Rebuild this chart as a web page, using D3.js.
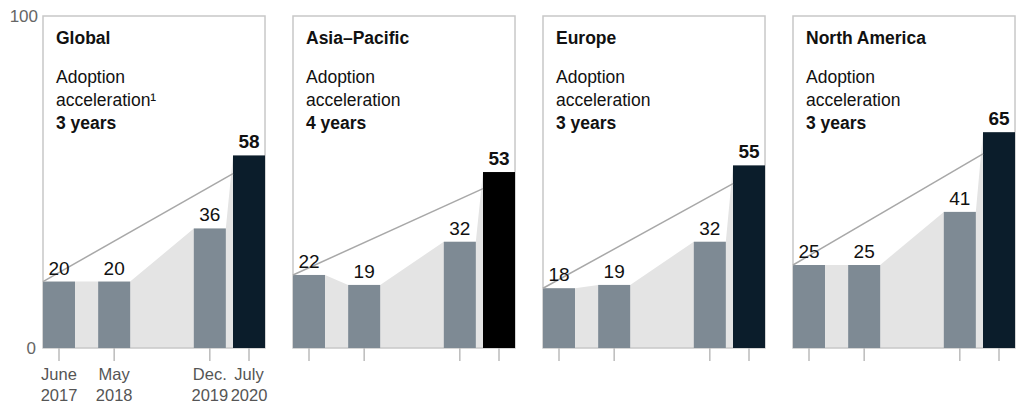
<!DOCTYPE html>
<html>
<head>
<meta charset="utf-8">
<script src="https://cdn.jsdelivr.net/npm/d3@7"></script>
<style>
  body { margin: 0; background: #fff; }
  svg { display: block; font-family: "Liberation Sans", Arial, sans-serif; }
</style>
</head>
<body>
<svg id="chart" width="1019" height="407"></svg>
<script>
// data
var regions = ["Global", "Asia\u2013Pacific", "Europe", "North America"];
var accelYears = [3, 4, 3, 3];
var surveyDates = ["2017-06", "2018-05", "2019-12", "2020-07"];
var dateLabels = [["June", "2017"], ["May", "2018"], ["Dec.", "2019"], ["July", "2020"]];
var globalValues = [20, 20, 36, 58];
var asiaValues = [22, 19, 32, 53];
var europeValues = [18, 19, 32, 55];
var northAmericaValues = [25, 25, 41, 65];
var trendEnd = [52.5, 48, 49.5, 58.5];   // where the grey trend line meets the last bar
var yTicks = [0, 100];

var seriesList = [globalValues, asiaValues, europeValues, northAmericaValues];
var lastBarColors = ["#0b1d2b", "#000000", "#0b1d2b", "#0b1d2b"];

var svg = d3.select("#chart");
var parse = d3.timeParse("%Y-%m");
var dates = surveyDates.map(parse);

var panelLeft = 43, panelStep = 250, barW = 32;
var lastGap = 4;   // the highlighted (latest) bar sits a little apart
var y = d3.scaleLinear().domain([0, 100]).range([348, 16]);
var x = d3.scaleTime().domain(d3.extent(dates)).range([0, 186]);

function barX(d, i) { return x(d) + (i === dates.length - 1 ? lastGap : 0); }

// y axis labels (only drawn once, left of the first panel)
svg.selectAll(".ylab").data(yTicks).enter().append("text")
    .attr("class", "ylab")
    .attr("x", function (d) { return d === 0 ? 36 : 38; })
    .attr("y", function (d) { return y(d) + 6; })
    .attr("text-anchor", "end")
    .attr("font-size", 17)
    .attr("fill", "#666")
    .text(function (d) { return d; });

seriesList.forEach(function (vals, p) {
    var g = svg.append("g").attr("transform", "translate(" + (panelLeft + p * panelStep) + ",0)");
    var pts = vals.map(function (v, i) { return {d: dates[i], v: v, i: i}; });
    var right = barX(dates[3], 3) + barW;

    // shaded area linking the bar tops
    var areaPts = [];
    pts.forEach(function (o) {
        areaPts.push([barX(o.d, o.i), o.v]);
        areaPts.push([barX(o.d, o.i) + barW, o.v]);
    });
    var area = d3.area()
        .x(function (d) { return d[0]; })
        .y0(y(0))
        .y1(function (d) { return y(d[1]); });
    g.append("path").attr("d", area(areaPts)).attr("fill", "#e4e4e4");

    // panel frame
    g.append("rect")
        .attr("x", 0).attr("y", y(100))
        .attr("width", right).attr("height", y(0) - y(100))
        .attr("fill", "none").attr("stroke", "#c8c8c8").attr("stroke-width", 1.5);

    // ticks
    g.selectAll(".tick").data(pts).enter().append("line")
        .attr("x1", function (d) { return barX(d.d, d.i) + barW / 2; })
        .attr("x2", function (d) { return barX(d.d, d.i) + barW / 2; })
        .attr("y1", y(0)).attr("y2", y(0) + 13)
        .attr("stroke", "#bbb").attr("stroke-width", 1.5);

    // bars
    g.selectAll(".bar").data(pts).enter().append("rect")
        .attr("x", function (d) { return barX(d.d, d.i); })
        .attr("y", function (d) { return y(d.v); })
        .attr("width", barW)
        .attr("height", function (d) { return y(0) - y(d.v); })
        .attr("fill", function (d) { return d.i === 3 ? lastBarColors[p] : "#7e8a94"; });

    // trend line
    g.append("line")
        .attr("x1", barX(dates[0], 0)).attr("y1", y(vals[0]))
        .attr("x2", barX(dates[3], 3)).attr("y2", y(trendEnd[p]))
        .attr("stroke", "#a8a8a8").attr("stroke-width", 1.5);

    // value labels
    g.selectAll(".val").data(pts).enter().append("text")
        .attr("x", function (d) { return barX(d.d, d.i) + barW / 2; })
        .attr("y", function (d) { return y(d.v) - 7; })
        .attr("text-anchor", "middle")
        .attr("font-size", 19)
        .attr("font-weight", function (d) { return d.i === 3 ? "bold" : "normal"; })
        .attr("fill", "#111")
        .text(function (d) { return d.v; });

    // titles
    g.append("text").attr("x", 13).attr("y", 44)
        .attr("font-size", 17.5).attr("font-weight", "bold").attr("fill", "#111")
        .text(regions[p]);
    var t = g.append("text").attr("x", 13).attr("y", 83)
        .attr("font-size", 17.5).attr("fill", "#111");
    t.append("tspan").attr("x", 13).text("Adoption");
    t.append("tspan").attr("x", 13).attr("dy", 23).text(p === 0 ? "acceleration\u00b9" : "acceleration");
    t.append("tspan").attr("x", 13).attr("dy", 23).attr("font-weight", "bold").text(accelYears[p] + " years");

    // date labels under the first panel only
    if (p === 0) {
        var lab = g.selectAll(".dlab").data(pts).enter().append("text")
            .attr("text-anchor", "middle")
            .attr("font-size", 16.5)
            .attr("fill", "#555");
        lab.append("tspan")
            .attr("x", function (d) { return barX(d.d, d.i) + barW / 2; })
            .attr("y", 380)
            .text(function (d) { return dateLabels[d.i][0]; });
        lab.append("tspan")
            .attr("x", function (d) { return barX(d.d, d.i) + barW / 2; })
            .attr("y", 401)
            .text(function (d) { return dateLabels[d.i][1]; });
    }
});
</script>
</body>
</html>
